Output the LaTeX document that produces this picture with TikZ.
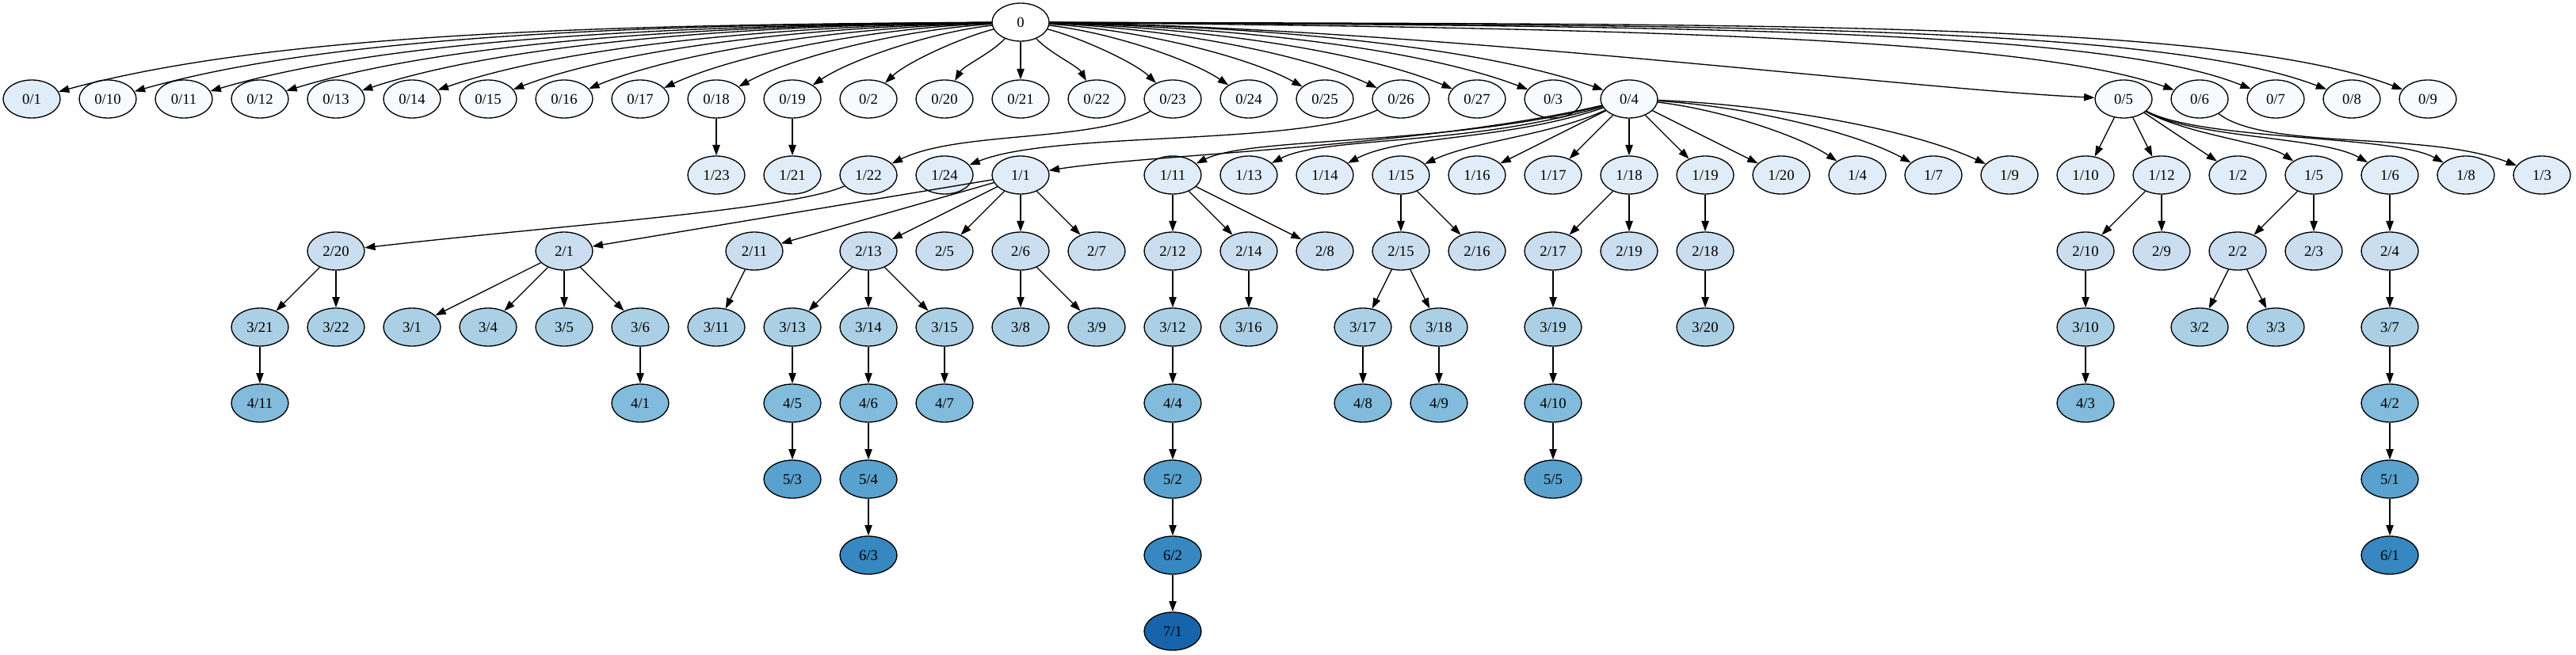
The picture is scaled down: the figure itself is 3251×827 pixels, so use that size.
\documentclass[tikz,border=0pt]{standalone}
\usepackage{fontspec}
\setmainfont{Liberation Serif}
\usepackage{tikz}
\usetikzlibrary{arrows.meta,shapes.geometric}

\definecolor{lvzero}{HTML}{F7FBFF}
\definecolor{lvone}{HTML}{E0ECF8}
\definecolor{lvtwo}{HTML}{CADEF0}
\definecolor{lvthree}{HTML}{ABD0E6}
\definecolor{lvfour}{HTML}{82BBDB}
\definecolor{lvfive}{HTML}{59A1CF}
\definecolor{lvsix}{HTML}{3787C0}
\definecolor{lvseven}{HTML}{1764AB}

\begin{document}
\begin{tikzpicture}[x=0.75pt, y=-0.75pt, line width=1pt,
  >={Triangle[length=10pt,width=7pt]},
  vtx/.style={ellipse, draw, minimum width=54pt, minimum height=36pt, inner sep=0pt,
    font=\fontsize{14}{17}\selectfont},
  rootnode/.style={vtx, fill=white},
  lv0/.style={vtx, fill=lvzero},
  lv1/.style={vtx, fill=lvone},
  lv2/.style={vtx, fill=lvtwo},
  lv3/.style={vtx, fill=lvthree},
  lv4/.style={vtx, fill=lvfour},
  lv5/.style={vtx, fill=lvfive},
  lv6/.style={vtx, fill=lvsix},
  lv7/.style={vtx, fill=lvseven}]
  \useasboundingbox (0,0) rectangle (3251,827);

  % Root
  \node[rootnode] (n0) at (1288,28) {0};

  % Nodes on level 0
  \node[lv1] (n0-1) at (40,125) {0/1};
  \node[lv0] (n0-10) at (136,125) {0/10};
  \node[lv0] (n0-11) at (232,125) {0/11};
  \node[lv0] (n0-12) at (328,125) {0/12};
  \node[lv0] (n0-13) at (424,125) {0/13};
  \node[lv0] (n0-14) at (520,125) {0/14};
  \node[lv0] (n0-15) at (616,125) {0/15};
  \node[lv0] (n0-16) at (712,125) {0/16};
  \node[lv0] (n0-17) at (808,125) {0/17};
  \node[lv0] (n0-18) at (904,125) {0/18};
  \node[lv0] (n0-19) at (1000,125) {0/19};
  \node[lv0] (n0-2) at (1096,125) {0/2};
  \node[lv0] (n0-20) at (1192,125) {0/20};
  \node[lv0] (n0-21) at (1288,125) {0/21};
  \node[lv0] (n0-22) at (1384,125) {0/22};
  \node[lv0] (n0-23) at (1480,125) {0/23};
  \node[lv0] (n0-24) at (1576,125) {0/24};
  \node[lv0] (n0-25) at (1672,125) {0/25};
  \node[lv0] (n0-26) at (1768,125) {0/26};
  \node[lv0] (n0-27) at (1864,125) {0/27};
  \node[lv0] (n0-3) at (1960,125) {0/3};
  \node[lv0] (n0-4) at (2056,125) {0/4};
  \node[lv0] (n0-5) at (2680,125) {0/5};
  \node[lv0] (n0-6) at (2776,125) {0/6};
  \node[lv0] (n0-7) at (2872,125) {0/7};
  \node[lv0] (n0-8) at (2968,125) {0/8};
  \node[lv0] (n0-9) at (3064,125) {0/9};

  % Nodes on level 1
  \node[lv1] (n1-23) at (904,221) {1/23};
  \node[lv1] (n1-21) at (1000,221) {1/21};
  \node[lv1] (n1-22) at (1096,221) {1/22};
  \node[lv1] (n1-24) at (1192,221) {1/24};
  \node[lv1] (n1-1) at (1288,221) {1/1};
  \node[lv1] (n1-11) at (1480,221) {1/11};
  \node[lv1] (n1-13) at (1576,221) {1/13};
  \node[lv1] (n1-14) at (1672,221) {1/14};
  \node[lv1] (n1-15) at (1768,221) {1/15};
  \node[lv1] (n1-16) at (1864,221) {1/16};
  \node[lv1] (n1-17) at (1960,221) {1/17};
  \node[lv1] (n1-18) at (2056,221) {1/18};
  \node[lv1] (n1-19) at (2152,221) {1/19};
  \node[lv1] (n1-20) at (2248,221) {1/20};
  \node[lv1] (n1-4) at (2344,221) {1/4};
  \node[lv1] (n1-7) at (2440,221) {1/7};
  \node[lv1] (n1-9) at (2536,221) {1/9};
  \node[lv1] (n1-10) at (2632,221) {1/10};
  \node[lv1] (n1-12) at (2728,221) {1/12};
  \node[lv1] (n1-2) at (2824,221) {1/2};
  \node[lv1] (n1-5) at (2920,221) {1/5};
  \node[lv1] (n1-6) at (3016,221) {1/6};
  \node[lv1] (n1-8) at (3112,221) {1/8};
  \node[lv1] (n1-3) at (3208,221) {1/3};

  % Nodes on level 2
  \node[lv2] (n2-20) at (424,317) {2/20};
  \node[lv2] (n2-1) at (712,317) {2/1};
  \node[lv2] (n2-11) at (952,317) {2/11};
  \node[lv2] (n2-13) at (1096,317) {2/13};
  \node[lv2] (n2-5) at (1192,317) {2/5};
  \node[lv2] (n2-6) at (1288,317) {2/6};
  \node[lv2] (n2-7) at (1384,317) {2/7};
  \node[lv2] (n2-12) at (1480,317) {2/12};
  \node[lv2] (n2-14) at (1576,317) {2/14};
  \node[lv2] (n2-8) at (1672,317) {2/8};
  \node[lv2] (n2-15) at (1768,317) {2/15};
  \node[lv2] (n2-16) at (1864,317) {2/16};
  \node[lv2] (n2-17) at (1960,317) {2/17};
  \node[lv2] (n2-19) at (2056,317) {2/19};
  \node[lv2] (n2-18) at (2152,317) {2/18};
  \node[lv2] (n2-10) at (2632,317) {2/10};
  \node[lv2] (n2-9) at (2728,317) {2/9};
  \node[lv2] (n2-2) at (2824,317) {2/2};
  \node[lv2] (n2-3) at (2920,317) {2/3};
  \node[lv2] (n2-4) at (3016,317) {2/4};

  % Nodes on level 3
  \node[lv3] (n3-21) at (328,413) {3/21};
  \node[lv3] (n3-22) at (424,413) {3/22};
  \node[lv3] (n3-1) at (520,413) {3/1};
  \node[lv3] (n3-4) at (616,413) {3/4};
  \node[lv3] (n3-5) at (712,413) {3/5};
  \node[lv3] (n3-6) at (808,413) {3/6};
  \node[lv3] (n3-11) at (904,413) {3/11};
  \node[lv3] (n3-13) at (1000,413) {3/13};
  \node[lv3] (n3-14) at (1096,413) {3/14};
  \node[lv3] (n3-15) at (1192,413) {3/15};
  \node[lv3] (n3-8) at (1288,413) {3/8};
  \node[lv3] (n3-9) at (1384,413) {3/9};
  \node[lv3] (n3-12) at (1480,413) {3/12};
  \node[lv3] (n3-16) at (1576,413) {3/16};
  \node[lv3] (n3-17) at (1720,413) {3/17};
  \node[lv3] (n3-18) at (1816,413) {3/18};
  \node[lv3] (n3-19) at (1960,413) {3/19};
  \node[lv3] (n3-20) at (2152,413) {3/20};
  \node[lv3] (n3-10) at (2632,413) {3/10};
  \node[lv3] (n3-2) at (2776,413) {3/2};
  \node[lv3] (n3-3) at (2872,413) {3/3};
  \node[lv3] (n3-7) at (3016,413) {3/7};

  % Nodes on level 4
  \node[lv4] (n4-11) at (328,509) {4/11};
  \node[lv4] (n4-1) at (808,509) {4/1};
  \node[lv4] (n4-5) at (1000,509) {4/5};
  \node[lv4] (n4-6) at (1096,509) {4/6};
  \node[lv4] (n4-7) at (1192,509) {4/7};
  \node[lv4] (n4-4) at (1480,509) {4/4};
  \node[lv4] (n4-8) at (1720,509) {4/8};
  \node[lv4] (n4-9) at (1816,509) {4/9};
  \node[lv4] (n4-10) at (1960,509) {4/10};
  \node[lv4] (n4-3) at (2632,509) {4/3};
  \node[lv4] (n4-2) at (3016,509) {4/2};

  % Nodes on levels 5 to 7
  \node[lv5] (n5-3) at (1000,605) {5/3};
  \node[lv5] (n5-4) at (1096,605) {5/4};
  \node[lv5] (n5-2) at (1480,605) {5/2};
  \node[lv5] (n5-5) at (1960,605) {5/5};
  \node[lv5] (n5-1) at (3016,605) {5/1};
  \node[lv6] (n6-3) at (1096,701) {6/3};
  \node[lv6] (n6-2) at (1480,701) {6/2};
  \node[lv6] (n6-1) at (3016,701) {6/1};
  \node[lv7] (n7-1) at (1480,797) {7/1};

  % Arrows from the root
  \draw[->] (n0) .. controls (789,31) and (352,40) .. (n0-1);
  \draw[->] (n0) .. controls (827,31) and (424,43) .. (n0-10);
  \draw[->] (n0) .. controls (866,32) and (496,47) .. (n0-11);
  \draw[->] (n0) .. controls (904,32) and (568,51) .. (n0-12);
  \draw[->] (n0) .. controls (942,32) and (640,54) .. (n0-13);
  \draw[->] (n0) .. controls (981,33) and (712,58) .. (n0-14);
  \draw[->] (n0) .. controls (1019,34) and (784,61) .. (n0-15);
  \draw[->] (n0) .. controls (1058,35) and (856,65) .. (n0-16);
  \draw[->] (n0) .. controls (1096,36) and (928,69) .. (n0-17);
  \draw[->] (n0) .. controls (1134,38) and (1000,72) .. (n0-18);
  \draw[->] (n0) .. controls (1173,41) and (1072,76) .. (n0-19);
  \draw[->] (n0) .. controls (1211,48) and (1144,79) .. (n0-2);
  \draw[->] (n0) .. controls (1250,68) and (1216,83) .. (n0-20);
  \draw[->] (n0) -- (n0-21);
  \draw[->] (n0) .. controls (1326,68) and (1360,83) .. (n0-22);
  \draw[->] (n0) .. controls (1365,48) and (1432,79) .. (n0-23);
  \draw[->] (n0) .. controls (1403,41) and (1504,76) .. (n0-24);
  \draw[->] (n0) .. controls (1442,38) and (1576,72) .. (n0-25);
  \draw[->] (n0) .. controls (1480,36) and (1648,69) .. (n0-26);
  \draw[->] (n0) .. controls (1518,35) and (1720,65) .. (n0-27);
  \draw[->] (n0) .. controls (1557,34) and (1792,61) .. (n0-3);
  \draw[->] (n0) .. controls (1595,33) and (1864,58) .. (n0-4);
  \draw[->] (n0) .. controls (1800,35) and (2400,112) .. (n0-5);
  \draw[->] (n0) .. controls (2000,35) and (2550,45) .. (n0-6);
  \draw[->] (n0) .. controls (2100,33) and (2650,35) .. (n0-7);
  \draw[->] (n0) .. controls (2150,32) and (2720,30) .. (n0-8);
  \draw[->] (n0) .. controls (2200,31) and (2800,25) .. (n0-9);

  % Arrows from level 0
  \draw[->] (n0-18) -- (n1-23);
  \draw[->] (n0-19) -- (n1-21);
  \draw[->] (n0-23) .. controls (1380,180) and (1210,165) .. (n1-22);
  \draw[->] (n0-26) .. controls (1640,185) and (1330,165) .. (n1-24);
  \draw[->] (n0-4) .. controls (1800,185) and (1450,195) .. (n1-1);
  \draw[->] (n0-4) .. controls (1820,185) and (1580,172) .. (n1-11);
  \draw[->] (n0-4) .. controls (1850,185) and (1670,172) .. (n1-13);
  \draw[->] (n0-4) .. controls (1900,178) and (1770,170) .. (n1-14);
  \draw[->] (n0-4) .. controls (1960,170) and (1860,178) .. (n1-15);
  \draw[->] (n0-4) -- (n1-16);
  \draw[->] (n0-4) -- (n1-17);
  \draw[->] (n0-4) -- (n1-18);
  \draw[->] (n0-4) -- (n1-19);
  \draw[->] (n0-4) -- (n1-20);
  \draw[->] (n0-4) .. controls (2171,138) and (2272,172) .. (n1-4);
  \draw[->] (n0-4) .. controls (2210,135) and (2344,168) .. (n1-7);
  \draw[->] (n0-4) .. controls (2248,133) and (2416,165) .. (n1-9);
  \draw[->] (n0-5) -- (n1-10);
  \draw[->] (n0-5) -- (n1-12);
  \draw[->] (n0-5) -- (n1-2);
  \draw[->] (n0-5) .. controls (2760,170) and (2860,180) .. (n1-5);
  \draw[->] (n0-5) .. controls (2770,175) and (2930,172) .. (n1-6);
  \draw[->] (n0-5) .. controls (2780,178) and (3020,170) .. (n1-8);
  \draw[->] (n0-6) .. controls (2860,190) and (3060,165) .. (n1-3);

  % Arrows from level 1
  \draw[->] (n1-22) .. controls (1000,265) and (700,285) .. (n2-20);
  \draw[->] (n1-1) -- (n2-1);
  \draw[->] (n1-1) -- (n2-11);
  \draw[->] (n1-1) -- (n2-13);
  \draw[->] (n1-1) -- (n2-5);
  \draw[->] (n1-1) -- (n2-6);
  \draw[->] (n1-1) -- (n2-7);
  \draw[->] (n1-11) -- (n2-12);
  \draw[->] (n1-11) -- (n2-14);
  \draw[->] (n1-11) -- (n2-8);
  \draw[->] (n1-15) -- (n2-15);
  \draw[->] (n1-15) -- (n2-16);
  \draw[->] (n1-18) -- (n2-17);
  \draw[->] (n1-18) -- (n2-19);
  \draw[->] (n1-19) -- (n2-18);
  \draw[->] (n1-12) -- (n2-10);
  \draw[->] (n1-12) -- (n2-9);
  \draw[->] (n1-5) -- (n2-2);
  \draw[->] (n1-5) -- (n2-3);
  \draw[->] (n1-6) -- (n2-4);

  % Arrows from level 2
  \draw[->] (n2-20) -- (n3-21);
  \draw[->] (n2-20) -- (n3-22);
  \draw[->] (n2-1) -- (n3-1);
  \draw[->] (n2-1) -- (n3-4);
  \draw[->] (n2-1) -- (n3-5);
  \draw[->] (n2-1) -- (n3-6);
  \draw[->] (n2-11) -- (n3-11);
  \draw[->] (n2-13) -- (n3-13);
  \draw[->] (n2-13) -- (n3-14);
  \draw[->] (n2-13) -- (n3-15);
  \draw[->] (n2-6) -- (n3-8);
  \draw[->] (n2-6) -- (n3-9);
  \draw[->] (n2-12) -- (n3-12);
  \draw[->] (n2-14) -- (n3-16);
  \draw[->] (n2-15) -- (n3-17);
  \draw[->] (n2-15) -- (n3-18);
  \draw[->] (n2-17) -- (n3-19);
  \draw[->] (n2-18) -- (n3-20);
  \draw[->] (n2-10) -- (n3-10);
  \draw[->] (n2-2) -- (n3-2);
  \draw[->] (n2-2) -- (n3-3);
  \draw[->] (n2-4) -- (n3-7);

  % Arrows from level 3 down
  \draw[->] (n3-21) -- (n4-11);
  \draw[->] (n3-6) -- (n4-1);
  \draw[->] (n3-13) -- (n4-5);
  \draw[->] (n3-14) -- (n4-6);
  \draw[->] (n3-15) -- (n4-7);
  \draw[->] (n3-12) -- (n4-4);
  \draw[->] (n3-17) -- (n4-8);
  \draw[->] (n3-18) -- (n4-9);
  \draw[->] (n3-19) -- (n4-10);
  \draw[->] (n3-10) -- (n4-3);
  \draw[->] (n3-7) -- (n4-2);
  \draw[->] (n4-5) -- (n5-3);
  \draw[->] (n4-6) -- (n5-4);
  \draw[->] (n4-4) -- (n5-2);
  \draw[->] (n4-10) -- (n5-5);
  \draw[->] (n4-2) -- (n5-1);
  \draw[->] (n5-4) -- (n6-3);
  \draw[->] (n5-2) -- (n6-2);
  \draw[->] (n5-1) -- (n6-1);
  \draw[->] (n6-2) -- (n7-1);
\end{tikzpicture}
\end{document}
